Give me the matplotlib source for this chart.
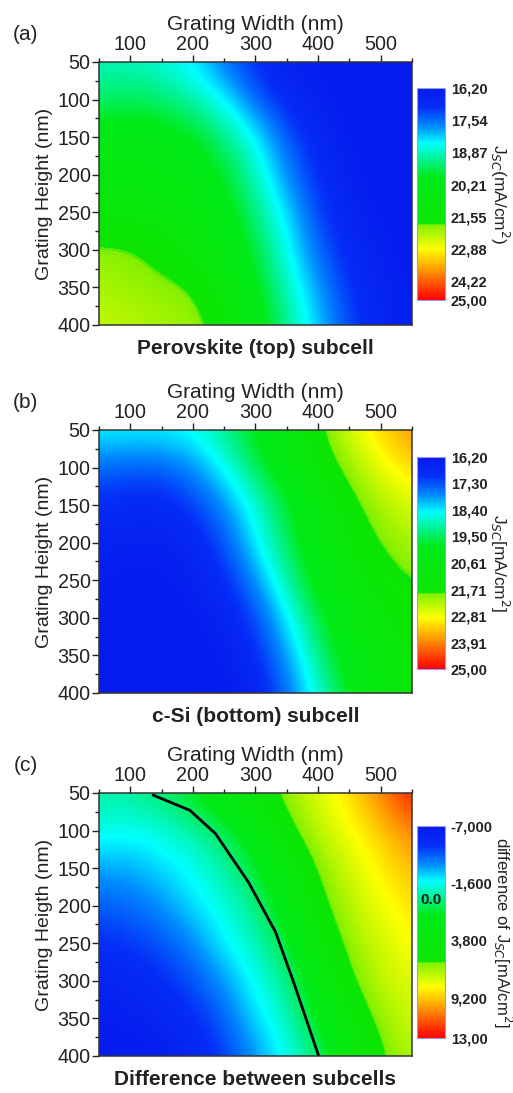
import numpy as np
import matplotlib.pyplot as plt
from matplotlib.colors import LinearSegmentedColormap, Normalize
from matplotlib.ticker import MultipleLocator

plt.rcParams['font.family'] = ['Liberation Sans', 'DejaVu Sans']

# grid of the simulation (nm)
widths = [50, 100, 150, 200, 250, 300, 350, 400, 450, 500, 550]
heights = [50, 100, 150, 200, 250, 300, 350, 400]

# Jsc of perovskite (top) subcell, rows = heights, cols = widths
top_jsc = [
    [18.9, 18.9, 18.7, 18.4, 17.6, 16.9, 16.5, 16.4, 16.3, 16.3, 16.3],
    [19.4, 19.5, 19.4, 19.0, 18.5, 17.5, 16.8, 16.5, 16.3, 16.3, 16.3],
    [20.2, 20.3, 20.2, 19.9, 19.3, 18.5, 17.4, 16.7, 16.4, 16.3, 16.3],
    [20.6, 20.7, 20.6, 20.4, 19.8, 18.9, 17.8, 16.9, 16.5, 16.3, 16.3],
    [21.1, 21.1, 21.0, 20.7, 20.2, 19.3, 18.3, 17.2, 16.6, 16.4, 16.3],
    [22.0, 21.95, 21.6, 21.1, 20.5, 19.7, 18.6, 17.5, 16.8, 16.5, 16.3],
    [22.2, 22.1, 22.0, 21.9, 21.0, 20.0, 18.9, 17.9, 17.0, 16.6, 16.4],
    [22.4, 22.3, 22.2, 22.1, 21.6, 20.3, 19.2, 18.2, 17.2, 16.7, 16.4],
]

# Jsc of c-Si (bottom) subcell
bottom_jsc = [
    [18.5, 18.5, 18.5, 18.6, 19.2, 20.0, 20.8, 21.7, 22.6, 23.2, 23.8],
    [17.5, 17.4, 17.4, 17.8, 18.5, 19.5, 20.4, 21.3, 22.1, 22.7, 23.2],
    [16.9, 16.8, 16.8, 17.1, 17.8, 18.7, 19.7, 20.7, 21.6, 22.2, 22.6],
    [16.6, 16.5, 16.5, 16.7, 17.3, 18.4, 19.5, 20.5, 21.3, 21.9, 22.2],
    [16.4, 16.4, 16.4, 16.5, 16.9, 17.8, 19.0, 20.2, 21.0, 21.5, 21.9],
    [16.3, 16.3, 16.3, 16.4, 16.6, 17.2, 18.4, 19.6, 20.6, 21.2, 21.5],
    [16.3, 16.3, 16.3, 16.3, 16.4, 16.9, 17.9, 19.2, 20.3, 21.0, 21.3],
    [16.3, 16.3, 16.3, 16.3, 16.3, 16.6, 17.5, 18.7, 19.9, 20.7, 21.1],
]

# difference between the subcells
diff_jsc = [
    [-0.5, -0.4, 0.3, 1.5, 3.0, 4.8, 6.4, 7.6, 8.8, 10.5, 12.6],
    [-1.4, -1.6, -1.3, -0.6, 0.5, 2.5, 5.4, 7.0, 8.0, 9.2, 10.5],
    [-3.0, -2.9, -2.3, -1.6, -0.6, 1.0, 3.5, 6.1, 7.4, 8.4, 9.5],
    [-4.3, -4.0, -3.3, -2.2, -1.3, -0.2, 2.3, 5.3, 6.9, 7.9, 8.7],
    [-5.3, -5.0, -4.5, -3.5, -1.9, -0.9, 0.9, 4.3, 6.3, 7.4, 8.2],
    [-6.0, -5.8, -5.3, -4.5, -3.2, -1.5, -0.4, 2.8, 5.7, 7.0, 7.7],
    [-6.5, -6.4, -6.0, -5.4, -4.2, -2.2, -1.0, 1.5, 4.4, 6.4, 7.3],
    [-6.8, -6.7, -6.5, -6.0, -5.0, -3.3, -1.5, 0.0, 3.0, 5.7, 6.8],
]

# current matching line (difference = 0)
zero_w = [137, 195, 236, 289, 332, 361, 401]
zero_h = [53, 73, 104, 169, 235, 302, 400]

ticks_a = [16.20, 17.54, 18.87, 20.21, 21.55, 22.88, 24.22, 25.00]
labels_a = ['16,20', '17,54', '18,87', '20,21', '21,55', '22,88', '24,22', '25,00']
ticks_b = [16.20, 17.30, 18.40, 19.50, 20.61, 21.71, 22.81, 23.91, 25.00]
labels_b = ['16,20', '17,30', '18,40', '19,50', '20,61', '21,71', '22,81', '23,91', '25,00']
ticks_c = [-7.0, -1.6, 3.8, 9.2, 13.0]
labels_c = ['-7,000', '-1,600', '3,800', '9,200', '13,00']

cmap = LinearSegmentedColormap.from_list('jsc', [
    (0.00, (0.02, 0.10, 0.93)),
    (0.09, (0.02, 0.18, 0.97)),
    (0.18, (0.00, 0.55, 1.00)),
    (0.26, (0.00, 1.00, 1.00)),
    (0.34, (0.00, 0.95, 0.55)),
    (0.42, (0.00, 0.92, 0.10)),
    (0.64, (0.05, 0.90, 0.00)),
    (0.645, (0.50, 0.94, 0.00)),
    (0.76, (1.00, 1.00, 0.00)),
    (0.87, (1.00, 0.55, 0.00)),
    (1.00, (1.00, 0.00, 0.00)),
])

fig = plt.figure(figsize=(5.13, 10.93), dpi=100)

panels = [
    (top_jsc, 16.2, 25.0, ticks_a, labels_a, 'J$_{SC}$(mA/cm$^2$)', 2.93, 12.5,
     'Grating Height (nm)', 'Perovskite (top) subcell', '(a)', 0.7027, 0.7255),
    (bottom_jsc, 16.2, 25.0, ticks_b, labels_b, 'J$_{SC}$[mA/cm$^2$]', 2.93, 12.5,
     'Grating Height (nm)', 'c-Si (bottom) subcell', '(b)', 0.3660, 0.3880),
    (diff_jsc, -7.0, 13.0, ticks_c, labels_c, 'difference of J$_{SC}$[mA/cm$^2$]', 3.05, 12,
     'Grating Heigth (nm)', 'Difference between subcells', '(c)', 0.0339, 0.0503),
]

for (data, vmin, vmax, cticks, clabels, clabel, clab_x, clab_size,
     ylab, title, letter, ybot, cbot) in panels:
    ax = fig.add_axes([0.193, ybot, 0.610, 0.2406])
    dw = widths[1] - widths[0]
    dh = heights[1] - heights[0]
    im = ax.imshow(np.array(data), cmap=cmap, norm=Normalize(vmin, vmax),
                   extent=[widths[0] - dw / 2, widths[-1] + dw / 2,
                           heights[-1] + dh / 2, heights[0] - dh / 2],
                   aspect='auto', interpolation='bicubic',
                   interpolation_stage='data')
    ax.set_xlim(50, 550)
    ax.set_ylim(400, 50)
    ax.xaxis.tick_top()
    ax.xaxis.set_label_position('top')
    ax.set_xticks([100, 200, 300, 400, 500])
    ax.set_yticks([50, 100, 150, 200, 250, 300, 350, 400])
    ax.xaxis.set_minor_locator(MultipleLocator(50))
    ax.yaxis.set_minor_locator(MultipleLocator(25))
    ax.tick_params(which='major', length=5, width=1, labelsize=14.2, pad=1,
                   color='#222222', labelcolor='#222222')
    ax.tick_params(which='minor', length=3, width=1, color='#222222')
    for sp in ax.spines.values():
        sp.set_linewidth(1.1)
        sp.set_color('#333333')
    ax.set_xlabel('Grating Width (nm)', fontsize=15, labelpad=3, color='#222222')
    ax.set_ylabel(ylab, fontsize=14, labelpad=3, color='#222222')
    ax.text(0.5, -0.09, title, transform=ax.transAxes, ha='center', va='center',
            fontsize=15, fontweight='bold', color='#222222')
    ax.text(-0.235, 1.105, letter, transform=ax.transAxes, ha='center', va='center',
            fontsize=15, color='#222222')

    if ylab.startswith('Grating Heigth'):
        ax.plot(zero_w, zero_h, color='black', lw=2)

    cax = fig.add_axes([0.813, cbot, 0.0546, 0.194])
    cb = fig.colorbar(im, cax=cax)
    cb.ax.set_ylim(vmax, vmin)
    cb.set_ticks(cticks)
    cb.set_ticklabels(clabels)
    cb.ax.tick_params(length=0, labelsize=10.5, pad=4)
    for t in cb.ax.get_yticklabels():
        t.set_fontweight('bold')
        t.set_color('#222222')
    cb.outline.set_edgecolor('#9999ee')
    cb.outline.set_linewidth(0.8)
    cb.ax.text(clab_x, 0.5, clabel, rotation=270, ha='center', va='center',
               fontsize=clab_size, color='#222222', transform=cb.ax.transAxes)
    if vmin < 0:
        cb.ax.text(0.5, 0.0, '0.0', ha='center', va='center', fontsize=11,
                   fontweight='bold', color='#222222',
                   transform=cb.ax.get_yaxis_transform())

fig.savefig('out.png', dpi=100)
